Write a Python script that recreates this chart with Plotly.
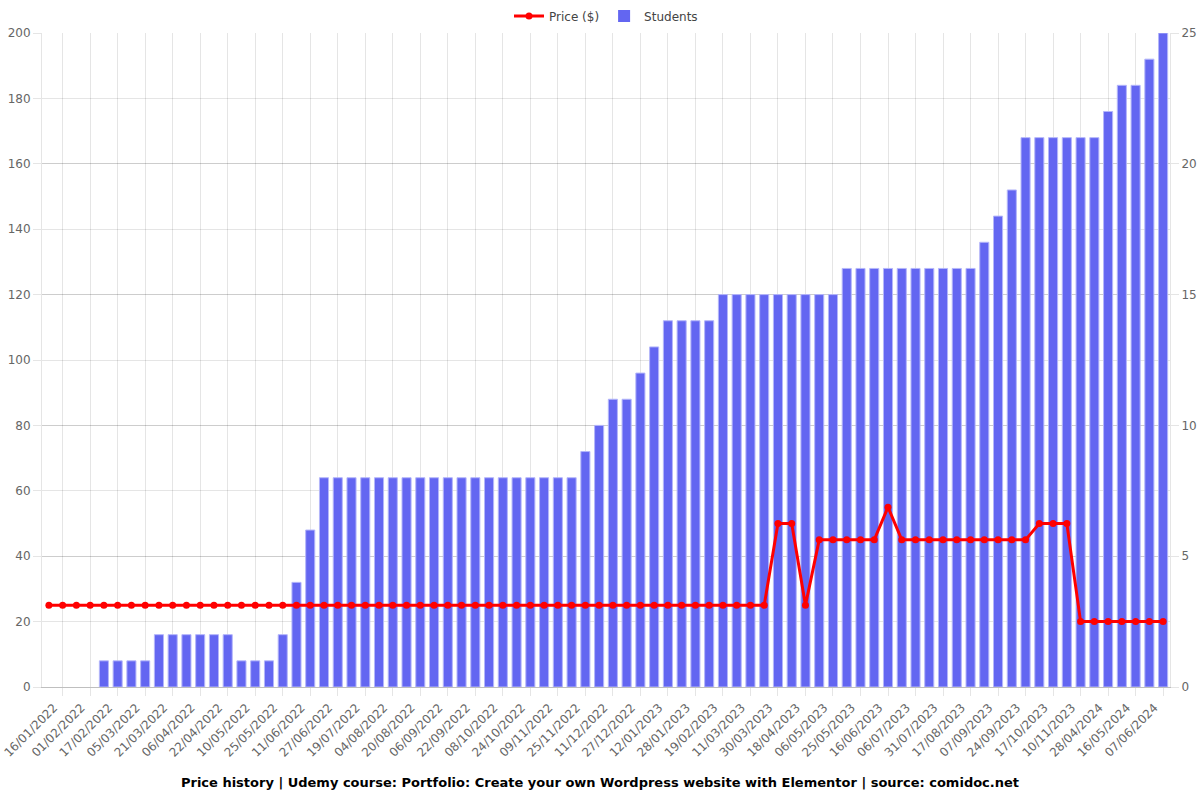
import plotly.graph_objects as go

dates = [
    "16/01/2022", "24/01/2022", "01/02/2022", "09/02/2022", "17/02/2022", "25/02/2022",
    "05/03/2022", "13/03/2022", "21/03/2022", "29/03/2022", "06/04/2022", "14/04/2022",
    "22/04/2022", "01/05/2022", "10/05/2022", "17/05/2022", "25/05/2022", "03/06/2022",
    "11/06/2022", "19/06/2022", "27/06/2022", "08/07/2022", "19/07/2022", "27/07/2022",
    "04/08/2022", "12/08/2022", "20/08/2022", "29/08/2022", "06/09/2022", "14/09/2022",
    "22/09/2022", "30/09/2022", "08/10/2022", "16/10/2022", "24/10/2022", "01/11/2022",
    "09/11/2022", "17/11/2022", "25/11/2022", "03/12/2022", "11/12/2022", "19/12/2022",
    "27/12/2022", "04/01/2023", "12/01/2023", "20/01/2023", "28/01/2023", "08/02/2023",
    "19/02/2023", "01/03/2023", "11/03/2023", "20/03/2023", "30/03/2023", "09/04/2023",
    "18/04/2023", "27/04/2023", "06/05/2023", "15/05/2023", "25/05/2023", "05/06/2023",
    "16/06/2023", "26/06/2023", "06/07/2023", "18/07/2023", "31/07/2023", "08/08/2023",
    "17/08/2023", "27/08/2023", "07/09/2023", "15/09/2023", "24/09/2023", "05/10/2023",
    "17/10/2023", "28/10/2023", "10/11/2023", "04/03/2024", "28/04/2024", "07/05/2024",
    "16/05/2024", "27/05/2024", "07/06/2024", "16/06/2024",
]

price = (
    [25] * 53 + [50, 50] + [25] + [45] * 5 + [55] + [45] * 10 + [50] * 3 + [20] * 7
)

students = (
    [0] * 4 + [1] * 4 + [2] * 6 + [1] * 3 + [2, 4, 6] + [8] * 19 + [9, 10, 11, 11, 12, 13]
    + [14] * 4 + [15] * 9 + [16] * 10 + [17, 18, 19] + [21] * 6 + [22, 23, 23, 24, 25]
)

shown_labels = dates[::2]
grid_positions = list(range(1, len(dates), 2))

GRID = "rgba(0,0,0,0.1)"
FONT = "DejaVu Sans"

fig = go.Figure()

fig.add_trace(go.Scatter(
    x=dates, y=price, name="Price ($)", mode="lines+markers",
    line=dict(color="#ff0000", width=3),
    marker=dict(color="#ff0000", size=7),
    yaxis="y2", xaxis="x",
))

fig.add_trace(go.Bar(
    x=dates, y=students, name="Students",
    marker=dict(color="#6366f1",
                line=dict(color="rgba(180,182,250,1)",
                          width=[0 if s == 0 else 1 for s in students])),
    yaxis="y", xaxis="x",
))

fig.update_layout(
    width=1200, height=800,
    margin=dict(l=42, r=30, t=33, b=113, autoexpand=False),
    paper_bgcolor="white", plot_bgcolor="white",
    font=dict(family=FONT, size=12, color="#666666"),
    bargap=0.34,
    showlegend=True,
    legend=dict(orientation="h", x=0.5, xanchor="center", y=0.98, yref="container",
                yanchor="middle", font=dict(size=12, color="#444444"), traceorder="normal"),
    title=dict(
        text="<b>Price history | Udemy course: Portfolio: Create your own Wordpress website with Elementor | source: comidoc.net</b>",
        x=0.5, xanchor="center", y=0.0225, yref="container", yanchor="middle",
        font=dict(family=FONT, size=13, color="#000000"),
    ),
    xaxis=dict(
        type="category", categoryorder="array", categoryarray=dates,
        tickmode="array", tickvals=shown_labels, ticktext=shown_labels,
        tickangle=-45, showgrid=False, ticks="", range=[-0.5, len(dates) - 0.5],
        ticklabelstandoff=8, ticklabelshift=5,
        showline=True, linecolor="rgba(0,0,0,0.25)", linewidth=1, automargin=False,
        tickfont=dict(size=12, color="#666666"), zeroline=False,
    ),
    xaxis2=dict(
        overlaying="x", anchor="y", side="bottom", type="linear",
        range=[-0.5, len(dates) - 0.5], tickmode="array", tickvals=grid_positions,
        showticklabels=False, showgrid=True, gridcolor=GRID, gridwidth=1,
        ticks="outside", ticklen=8, tickcolor=GRID, zeroline=False, automargin=False,
    ),
    yaxis=dict(
        side="right", range=[0, 25], tickmode="linear", tick0=0, dtick=5,
        showgrid=True, gridcolor=GRID, ticks="outside", ticklen=8, tickcolor=GRID,
        showline=True, linecolor=GRID, zeroline=False, automargin=False,
        tickfont=dict(size=12, color="#666666"),
    ),
    yaxis2=dict(
        side="left", overlaying="y", range=[0, 200], tickmode="linear", tick0=0, dtick=20,
        showgrid=True, gridcolor=GRID, ticks="outside", ticklen=8, tickcolor=GRID,
        showline=True, linecolor=GRID, zeroline=False, automargin=False,
        tickfont=dict(size=12, color="#666666"),
    ),
)

# invisible helper trace so the gridline axis is rendered
fig.add_trace(go.Scatter(x=[0], y=[None], xaxis="x2", yaxis="y", showlegend=False,
                         hoverinfo="skip"))

fig.write_html("out.html")
